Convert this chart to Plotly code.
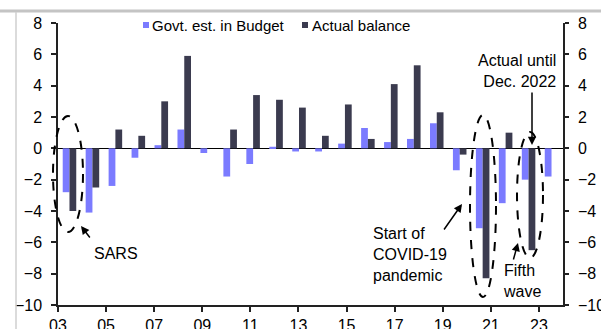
import plotly.graph_objects as go

# ---- data (fiscal years, % of GDP) ----
fiscal_years = ["2002/03", "2003/04", "2004/05", "2005/06", "2006/07", "2007/08",
                "2008/09", "2009/10", "2010/11", "2011/12", "2012/13", "2013/14",
                "2014/15", "2015/16", "2016/17", "2017/18", "2018/19", "2019/20",
                "2020/21", "2021/22", "2022/23", "2023/24"]
budget_est = [-2.8, -4.1, -2.4, -0.6, 0.2, 1.2, -0.3, -1.8, -1.0, 0.1, -0.2,
              -0.2, 0.3, 1.3, 0.4, 0.6, 1.6, -1.4, -5.1, -3.5, -2.0, -1.8]
actual_bal = [-4.0, -2.5, 1.2, 0.8, 3.0, 5.9, 0.0, 1.2, 3.4, 3.1, 2.6,
              0.8, 2.8, 0.6, 4.1, 5.3, 2.3, -0.4, -8.3, 1.0, -6.5, None]
tick_years = [2003, 2005, 2007, 2009, 2011, 2013, 2015, 2017, 2019, 2021, 2023]
tick_labels = ["03", "05", "07", "09", "11", "13", "15", "17", "19", "21", "23"]
y_ticks = [-10, -8, -6, -4, -2, 0, 2, 4, 6, 8]

X_START, X_END = 2003, 2024
n = len(fiscal_years)
xpos = [X_START + (i + 0.5) * (X_END - X_START) / n for i in range(n)]

LIGHT = "#7B7BFF"
DARK = "#3B3B4F"
FONT = "Liberation Sans, Arial, sans-serif"

fig = go.Figure()
fig.add_trace(go.Bar(x=xpos, y=budget_est, name="Govt. est. in Budget",
                     marker=dict(color=LIGHT, line=dict(width=0)),
                     customdata=fiscal_years))
fig.add_trace(go.Bar(x=xpos, y=actual_bal, name="Actual balance",
                     marker=dict(color=DARK, line=dict(width=0)),
                     customdata=fiscal_years))
# invisible trace to anchor right axis
fig.add_trace(go.Scatter(x=[xpos[0]], y=[0], yaxis="y2", mode="markers",
                         marker=dict(opacity=0), showlegend=False, hoverinfo="skip"))

# plot area in pixels
L, R, T, B = 58, 563, 23, 305
W, H = 601, 329


def px(xp):
    return (xp - L) / (R - L)


def py(yp):
    return (B - yp) / (B - T)


shapes = []
# frame lines (gray)
shapes.append(dict(type="line", xref="paper", yref="paper", x0=px(0), x1=px(601),
                   y0=py(11), y1=py(11), line=dict(color="#C4C4C4", width=3)))
shapes.append(dict(type="line", xref="paper", yref="paper", x0=px(16), x1=px(16),
                   y0=py(12), y1=py(330), line=dict(color="#CFCFCF", width=1.5)))
# dashed ellipses
for (x0, x1, y0, y1) in [(53, 83, 116, 232), (470, 496, 115, 297), (517, 543, 132, 258)]:
    shapes.append(dict(type="circle", xref="paper", yref="paper",
                       x0=px(x0), x1=px(x1), y0=py(y1), y1=py(y0),
                       line=dict(color="black", width=2, dash="dash")))
# legend swatches
shapes.append(dict(type="rect", xref="paper", yref="paper", x0=px(143), x1=px(149),
                   y0=py(28), y1=py(22), fillcolor=LIGHT, line=dict(width=0)))
shapes.append(dict(type="rect", xref="paper", yref="paper", x0=px(302), x1=px(308),
                   y0=py(28), y1=py(22), fillcolor=DARK, line=dict(width=0)))

annotations = []


def text(t, x, y, xanchor="left", align="left", size=16):
    annotations.append(dict(text=t, xref="paper", yref="paper", x=px(x), y=py(y),
                            xanchor=xanchor, yanchor="middle", align=align,
                            showarrow=False, font=dict(family=FONT, size=size, color="black")))


def arrow(hx, hy, tx, ty):
    annotations.append(dict(text="", xref="paper", yref="paper", x=px(hx), y=py(hy),
                            ax=tx - hx, ay=ty - hy, axref="pixel", ayref="pixel",
                            showarrow=True, arrowhead=2, arrowsize=1.1, arrowwidth=1.5,
                            arrowcolor="black", standoff=0, startstandoff=0))


text("Govt. est. in Budget", 150, 25, size=15)
text("Actual balance", 310, 25, size=15)
text("SARS", 92, 253)
text("Start of<br>COVID-19<br>pandemic", 371, 254)
text("Fifth<br>wave", 501, 281)
text("Actual until<br>Dec. 2022", 558, 71, xanchor="right", align="right")
arrow(81, 226, 91, 239)
arrow(462, 204, 443, 231)
arrow(518, 243, 513, 261)
arrow(532, 145, 532, 91)

axis_font = dict(family=FONT, size=16, color="black")
fig.update_layout(
    width=W, height=H,
    margin=dict(l=L, r=W - R, t=T, b=H - B, pad=0, autoexpand=False),
    paper_bgcolor="white", plot_bgcolor="white",
    barmode="group", bargap=0.41, bargroupgap=0,
    showlegend=False,
    xaxis=dict(range=[X_START, X_END], tickvals=tick_years, ticktext=tick_labels,
               showgrid=False, zeroline=False, showline=True, linecolor="#222",
               linewidth=1.5, ticks="outside", ticklen=5, tickwidth=1.5, tickcolor="#222",
               tickfont=axis_font, ticklabelstandoff=0, fixedrange=True, automargin=False),
    yaxis=dict(range=[-10, 8], tickvals=y_ticks, showgrid=False, zeroline=True,
               zerolinecolor="black", zerolinewidth=1.2, showline=True, linecolor="#222",
               linewidth=1.5, ticks="outside", ticklen=5, tickwidth=1.5, tickcolor="#222",
               tickfont=axis_font, ticklabelstandoff=6, automargin=False),
    yaxis2=dict(range=[-10, 8], tickvals=y_ticks, overlaying="y", side="right",
                showgrid=False, zeroline=False, showline=True, linecolor="#222",
                linewidth=1.5, ticks="outside", ticklen=4, tickwidth=1.5, tickcolor="#222",
                tickfont=axis_font, ticklabelstandoff=6, automargin=False),
    shapes=shapes,
    annotations=annotations,
    font=dict(family=FONT),
)

fig.write_html("out.html")
